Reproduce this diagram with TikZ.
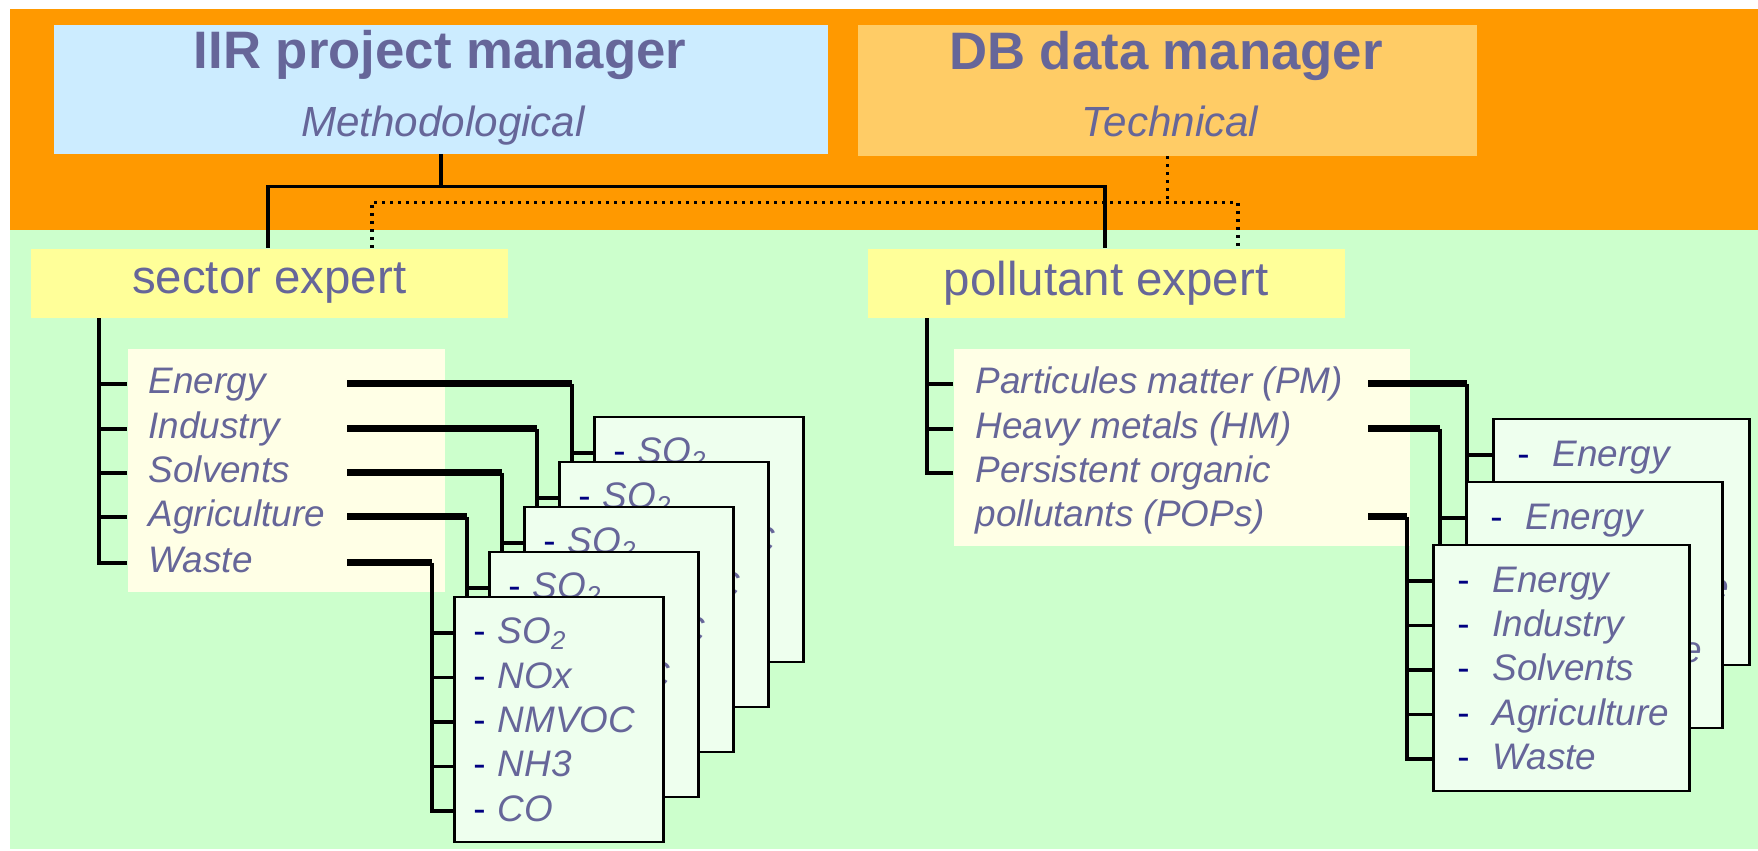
\documentclass[tikz,border=0pt]{standalone}
\usepackage{fontspec}
\setmainfont{Liberation Sans}
\usetikzlibrary{calc}

\definecolor{bgorange}{HTML}{FF9900}
\definecolor{bggreen}{HTML}{CCFFCC}
\definecolor{iirblue}{HTML}{CCECFF}
\definecolor{dbgold}{HTML}{FFCC66}
\definecolor{expyellow}{HTML}{FFFF99}
\definecolor{listcream}{HTML}{FFFFE6}
\definecolor{cardmint}{HTML}{EEFFEE}
\definecolor{slate}{HTML}{666699}
\definecolor{dashnavy}{HTML}{000080}

\tikzset{
  boss/.style={rectangle, inner sep=0pt, anchor=north west},
  bosstitle/.style={anchor=base, inner sep=0pt, text=slate, font=\fontsize{15}{18}\selectfont\bfseries},
  bossrole/.style={anchor=base, inner sep=0pt, text=slate, font=\fontsize{12}{14}\selectfont\itshape},
  expert/.style={rectangle, fill=expyellow, anchor=north west, inner sep=0pt, minimum width=47.7mm, minimum height=6.9mm, text=slate, font=\fontsize{13.5}{16}\selectfont},
  listbg/.style={rectangle, fill=listcream, anchor=north west, inner sep=0pt},
  listitem/.style={anchor=mid west, inner sep=0pt, text=slate, font=\fontsize{10.5}{12.6}\selectfont\itshape},
  card/.style={rectangle, draw=black, line width=0.25mm, fill=cardmint, anchor=north west, inner ysep=0pt, align=left, text=slate, font=\fontsize{10.5}{12.6}\selectfont\itshape},
  gascard/.style={card, minimum width=20.9mm, minimum height=24.5mm, inner xsep=1.9mm, text width=17.1mm},
  sectcard/.style={card, minimum width=25.6mm, minimum height=24.6mm, inner xsep=2.4mm, text width=20.8mm},
  link/.style={line width=0.38mm},
  dotlink/.style={line width=0.32mm, dash pattern=on 0.3mm off 0.5mm},
  tree/.style={line width=0.33mm},
  feed/.style={line width=0.7mm},
}

\def\dsh{{\upshape\color{dashnavy}-}}
\def\gaslist{\mbox{\dsh\ SO\textsubscript{2}}\\ \mbox{\dsh\ NOx}\\ \mbox{\dsh\ NMVOC}\\ \mbox{\dsh\ NH3}\\ \mbox{\dsh\ CO}}
\def\sectlist{\mbox{\dsh\hspace{2.3mm}Energy}\\ \mbox{\dsh\hspace{2.3mm}Industry}\\ \mbox{\dsh\hspace{2.3mm}Solvents}\\ \mbox{\dsh\hspace{2.3mm}Agriculture}\\ \mbox{\dsh\hspace{2.3mm}Waste}}
% list item -> card, card in front, start of the thick line : kink offset
\def\feedcard(#1)(#2)(#3)(#4:#5){%
  \coordinate (kink) at ($(#2.north west)+(-#5,37)$);
  \draw[feed] (#4 |- #1.mid) -- (kink |- #1.mid);
  \draw[tree] (kink |- #1.mid) -- (kink |- #3.north);
  \draw[tree] (kink) -- (kink -| #2.west);
}

\begin{document}
\begin{tikzpicture}[x=0.1mm, y=-0.1mm]
	%%%%% BACKGROUND %%%%%
	\useasboundingbox (0,0) rectangle (1758,851);
	\fill[bgorange] (10,9) rectangle (1758,230);
	\fill[bggreen] (10,230) rectangle (1758,849);
	
	%%%%% MANAGERS %%%%%
	\node[boss, fill=iirblue, minimum width=77.4mm, minimum height=12.9mm] (iir) at (53,24) {};
	\node[bosstitle] (iirT) at (440,69) {IIR project manager};
	\node[bossrole] (iirR) at (443,137) {Methodological};
	
	\node[boss, fill=dbgold, minimum width=61.9mm, minimum height=13.1mm] (db) at (857,24) {};
	\node[bosstitle] (dbT) at (1166,70) {DB data manager};
	\node[bossrole] (dbR) at (1170,137) {Technical};
	
	%%%%% EXPERTS %%%%%
	\node[expert] (sx) at (30,248) {sector expert};
	\node[expert] (px) at (867,248) {pollutant expert};
	
	\coordinate (hub) at ($(iir.south)+(0,32)$);
	\draw[link] (iir.south) -- (hub);
	\draw[link] ($(sx.north west)+(238,0)$) |- (hub) -| ($(px.north west)+(238,0)$);
	
	\coordinate (dhub) at ($(db.south)+(0,46)$);
	\draw[dotlink] (db.south) -- (dhub);
	\draw[dotlink] ($(sx.north west)+(342,0)$) |- (dhub) -| ($(px.north west)+(371,0)$);
	
	%%%%% SECTOR LIST %%%%%
	\node[listbg, minimum width=31.7mm, minimum height=24.3mm] (sList) at (127,348) {};
	\node[listitem] (sEn) at (148,384) {Energy};
	\node[listitem] (sIn) at (148,429) {Industry};
	\node[listitem] (sSo) at (148,473) {Solvents};
	\node[listitem] (sAg) at (148,517) {Agriculture};
	\node[listitem] (sWa) at (148,563) {Waste};
	
	\coordinate (sTrunk) at ($(sx.south west)+(69,0)$);
	\draw[tree] (sTrunk) |- (sList.west |- sWa.mid);
	\draw[tree] (sTrunk |- sEn.mid) -- (sList.west |- sEn.mid);
	\draw[tree] (sTrunk |- sIn.mid) -- (sList.west |- sIn.mid);
	\draw[tree] (sTrunk |- sSo.mid) -- (sList.west |- sSo.mid);
	\draw[tree] (sTrunk |- sAg.mid) -- (sList.west |- sAg.mid);
	
	%%%%% POLLUTANT LIST %%%%%
	\node[listbg, minimum width=45.6mm, minimum height=19.7mm] (pList) at (953,348) {};
	\node[listitem] (pPM) at (975,384) {Particules matter (PM)};
	\node[listitem] (pHM) at (975,429) {Heavy metals (HM)};
	\node[listitem] (pPO) at (975,473) {Persistent organic};
	\node[listitem] (pPO2) at (975,517) {pollutants (POPs)};
	
	\coordinate (pTrunk) at ($(px.south west)+(60,0)$);
	\draw[tree] (pTrunk) |- (pList.west |- pPO.mid);
	\draw[tree] (pTrunk |- pPM.mid) -- (pList.west |- pPM.mid);
	\draw[tree] (pTrunk |- pHM.mid) -- (pList.west |- pHM.mid);
	
	%%%%% CARDS %%%%%
	\node[gascard] (sb1) at (593,416) {\gaslist};
	\node[gascard] (sb2) at (558,461) {\gaslist};
	\node[gascard] (sb3) at (523,506) {\gaslist};
	\node[gascard] (sb4) at (488,551) {\gaslist};
	\node[gascard] (sb5) at (453,596) {\gaslist};
	
	\node[sectcard] (pb1) at (1492,418) {\sectlist};
	\node[sectcard] (pb2) at (1465,481) {\sectlist};
	\node[sectcard] (pb3) at (1432,544) {\sectlist};
	
	%%%%% FEEDS %%%%%
	\coordinate (sFeed) at (347,0);
	\feedcard(sEn)(sb1)(sb2)(sFeed:21)
	\feedcard(sIn)(sb2)(sb3)(sFeed:21)
	\feedcard(sSo)(sb3)(sb4)(sFeed:21)
	\feedcard(sAg)(sb4)(sb5)(sFeed:21)
	
	\coordinate (kink) at ($(sb5.north west)+(-21,37)$);
	\draw[feed] (sFeed |- sWa.mid) -- (kink |- sWa.mid);
	\draw[tree] (kink |- sWa.mid) |- ($(sb5.north west)+(0,215)$);
	\draw[tree] (kink) -- (kink -| sb5.west);
	\draw[tree] ($(kink)+(0,44.5)$) -- ($(sb5.north west)+(0,81.5)$);
	\draw[tree] ($(kink)+(0,89)$) -- ($(sb5.north west)+(0,126)$);
	\draw[tree] ($(kink)+(0,133.5)$) -- ($(sb5.north west)+(0,170.5)$);
	
	\coordinate (pFeed) at (1368,0);
	\feedcard(pPM)(pb1)(pb2)(pFeed:25)
	\feedcard(pHM)(pb2)(pb3)(pFeed:25)
	
	\coordinate (kink) at ($(pb3.north west)+(-25,37)$);
	\draw[feed] (pFeed |- pPO2.mid) -- (kink |- pPO2.mid);
	\draw[tree] (kink |- pPO2.mid) |- ($(pb3.north west)+(0,215)$);
	\draw[tree] (kink) -- (kink -| pb3.west);
	\draw[tree] ($(kink)+(0,44.5)$) -- ($(pb3.north west)+(0,81.5)$);
	\draw[tree] ($(kink)+(0,89)$) -- ($(pb3.north west)+(0,126)$);
	\draw[tree] ($(kink)+(0,133.5)$) -- ($(pb3.north west)+(0,170.5)$);
\end{tikzpicture}
\end{document}
